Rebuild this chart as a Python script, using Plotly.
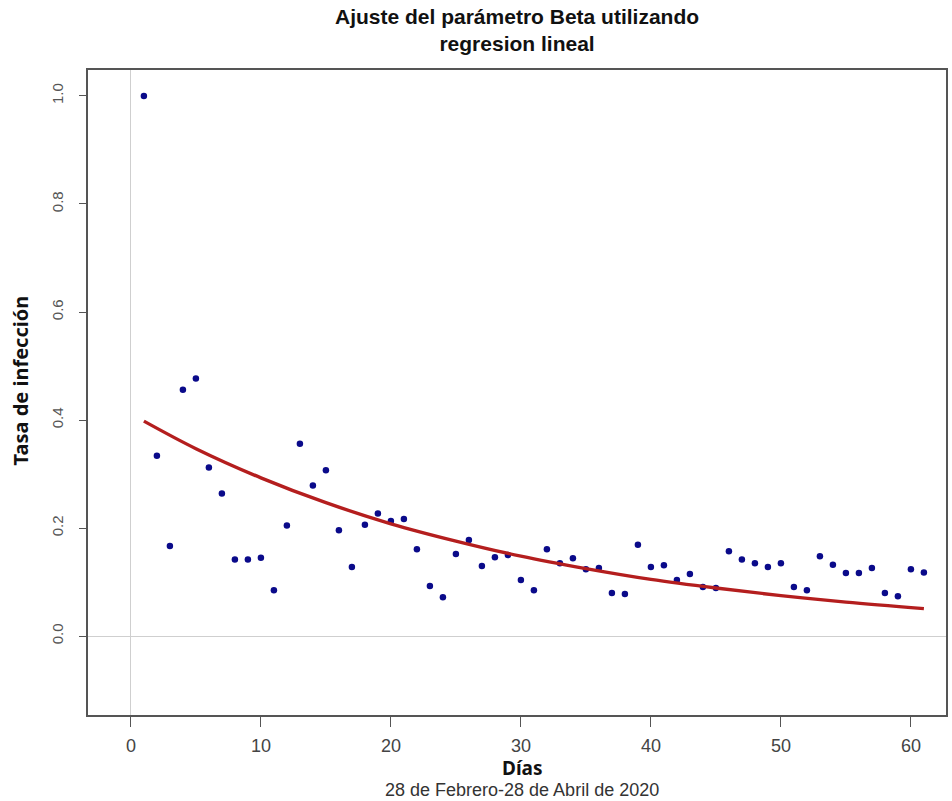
import plotly.graph_objects as go

dias = list(range(1, 62))
tasa = [1.000, 0.334, 0.167, 0.456, 0.477, 0.312, 0.264, 0.142, 0.142, 0.145,
        0.085, 0.205, 0.356, 0.279, 0.307, 0.196, 0.128, 0.206, 0.227, 0.213,
        0.217, 0.161, 0.093, 0.072, 0.152, 0.178, 0.130, 0.146, 0.150, 0.104,
        0.085, 0.161, 0.135, 0.144, 0.124, 0.126, 0.080, 0.078, 0.169, 0.128,
        0.131, 0.104, 0.115, 0.091, 0.089, 0.157, 0.142, 0.135, 0.128, 0.135,
        0.091, 0.085, 0.148, 0.132, 0.117, 0.117, 0.126, 0.080, 0.074, 0.124,
        0.118]

ajuste_dias = [1, 5, 10, 15, 20, 25, 30, 35, 40, 45, 50, 55, 61]
ajuste_val = [0.398, 0.347, 0.293, 0.247, 0.208, 0.176, 0.148, 0.125, 0.105,
              0.089, 0.075, 0.063, 0.051]

x_ticks = [0, 10, 20, 30, 40, 50, 60]
y_ticks = [0.0, 0.2, 0.4, 0.6, 0.8, 1.0]

fig = go.Figure()
fig.add_trace(go.Scatter(x=dias, y=tasa, mode="markers",
                         marker=dict(color="#0a0a8a", size=6.5),
                         showlegend=False))
fig.add_trace(go.Scatter(x=ajuste_dias, y=ajuste_val, mode="lines",
                         line=dict(color="#b41e1e", width=3.4, shape="spline"),
                         showlegend=False))

sans = "Liberation Sans, Arial, sans-serif"

fig.update_layout(
    width=952, height=801,
    margin=dict(l=88, r=4, t=70, b=86),
    paper_bgcolor="white", plot_bgcolor="white",
    xaxis=dict(range=[-3.3, 62.7], tickvals=x_ticks, showgrid=False,
               zeroline=True, zerolinecolor="#cfcfcf", zerolinewidth=1.2,
               showline=True, linecolor="#555555", linewidth=1.5, mirror=True,
               ticks="outside", ticklen=10, tickcolor="#555555", tickwidth=1.2,
               ticklabelstandoff=4,
               tickfont=dict(family=sans, size=18, color="#444444")),
    yaxis=dict(range=[-0.146, 1.048], tickvals=y_ticks, tickformat=".1f",
               showgrid=False, tickangle=-90,
               zeroline=True, zerolinecolor="#cfcfcf", zerolinewidth=1.2,
               showline=True, linecolor="#555555", linewidth=1.5, mirror=True,
               ticks="outside", ticklen=7, tickcolor="#555555", tickwidth=1.2,
               ticklabelstandoff=10,
               tickfont=dict(family=sans, size=15, color="#555555")),
    annotations=[
        dict(text="<b>Ajuste del parámetro Beta utilizando<br>regresion lineal</b>",
             xref="paper", yref="paper", x=0.5, y=(715 - 30) / 645,
             xanchor="center", yanchor="middle", showarrow=False,
             font=dict(family=sans, size=21, color="#111111")),
        dict(text="<b>Tasa de infección</b>", xref="paper", yref="paper",
             x=-0.079, y=0.519, xanchor="center", yanchor="middle", textangle=-90,
             showarrow=False,
             font=dict(family="Noto Sans, Open Sans, sans-serif", size=20, color="#111111")),
        dict(text="<b>Días</b>", xref="paper", yref="paper",
             x=0.506, y=-0.082, xanchor="center", yanchor="middle", showarrow=False,
             font=dict(family="Noto Sans, Open Sans, sans-serif", size=19, color="#111111")),
        dict(text="28 de Febrero-28 de Abril de 2020", xref="paper", yref="paper",
             x=0.506, y=-0.116, xanchor="center", yanchor="middle", showarrow=False,
             font=dict(family=sans, size=18, color="#333333")),
    ],
)

fig.write_html("out.html", config={"displayModeBar": False},
               post_script="document.body.style.margin='0';document.body.style.overflow='hidden';")
